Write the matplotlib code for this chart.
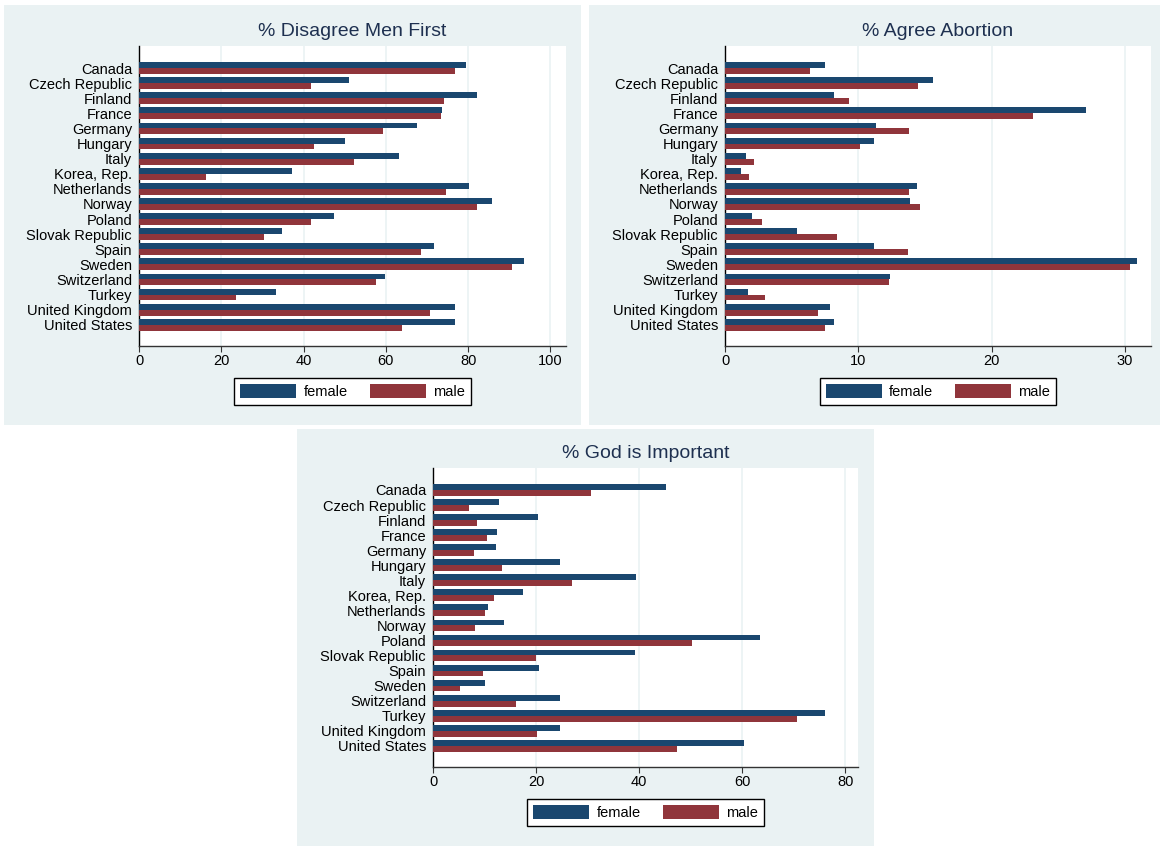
import matplotlib
matplotlib.use('Agg')
import matplotlib.pyplot as plt
from matplotlib.patches import Rectangle, Patch
import numpy as np

plt.rcParams['font.family'] = ['Liberation Sans', 'DejaVu Sans']

countries = ['Canada', 'Czech Republic', 'Finland', 'France', 'Germany', 'Hungary',
             'Italy', 'Korea, Rep.', 'Netherlands', 'Norway', 'Poland',
             'Slovak Republic', 'Spain', 'Sweden', 'Switzerland', 'Turkey',
             'United Kingdom', 'United States']

disagree_female = [79.6, 51.0, 82.2, 73.6, 67.5, 50.0, 63.3, 37.3, 80.2, 85.9,
                   47.4, 34.8, 71.7, 93.5, 59.7, 33.4, 76.9, 76.9]
disagree_male = [76.7, 41.9, 74.1, 73.5, 59.2, 42.6, 52.3, 16.4, 74.7, 82.2,
                 41.7, 30.3, 68.6, 90.7, 57.5, 23.5, 70.8, 63.9]

abortion_female = [7.5, 15.6, 8.2, 27.1, 11.3, 11.2, 1.6, 1.2, 14.4, 13.9,
                   2.0, 5.4, 11.2, 30.9, 12.4, 1.7, 7.9, 8.2]
abortion_male = [6.4, 14.5, 9.3, 23.1, 13.8, 10.1, 2.2, 1.8, 13.8, 14.6,
                 2.8, 8.4, 13.7, 30.4, 12.3, 3.0, 7.0, 7.5]

god_female = [45.3, 12.9, 20.3, 12.4, 12.2, 24.7, 39.5, 17.5, 10.6, 13.7,
              63.4, 39.3, 20.5, 10.0, 24.7, 76.0, 24.6, 60.3]
god_male = [30.6, 7.0, 8.6, 10.5, 7.9, 13.4, 27.0, 11.8, 10.0, 8.1,
            50.3, 20.0, 9.8, 5.2, 16.1, 70.6, 20.1, 47.4]

NAVY = '#1a476f'
MAROON = '#90353b'
REGION = '#eaf2f3'
TITLE = '#1e3050'

W, H = 1161, 846
fig = plt.figure(figsize=(W / 100, H / 100), dpi=100)


def frac(x0, y0, x1, y1):
    # pixel box (top-left origin) -> figure fraction [left, bottom, width, height]
    return [x0 / W, 1 - y1 / H, (x1 - x0) / W, (y1 - y0) / H]


def panel(title, female, male, ticks, xmax, region, plot):
    l, b, w, h = frac(*region)
    fig.patches.append(Rectangle((l, b), w, h, transform=fig.transFigure,
                                 facecolor=REGION, edgecolor='none', zorder=-10))
    ax = fig.add_axes(frac(*plot))
    ax.set_facecolor('white')
    y = np.arange(len(countries))
    ax.barh(y - 0.195, female, height=0.39, color=NAVY, linewidth=0, zorder=3)
    ax.barh(y + 0.195, male, height=0.39, color=MAROON, linewidth=0, zorder=3)
    ax.set_ylim(len(countries) - 1 + 1.41, -1.46)
    ax.set_xlim(0, xmax)
    ax.set_yticks(y)
    ax.set_yticklabels(countries, fontsize=10.5)
    ax.set_xticks(ticks)
    ax.set_xticklabels([str(t) for t in ticks], fontsize=10.5)
    ax.tick_params(axis='y', length=0, pad=5)
    ax.tick_params(axis='x', length=4, width=0.8, color='#333333', pad=2)
    ax.grid(axis='x', color=REGION, linewidth=1.2, zorder=0)
    ax.set_axisbelow(True)
    for s in ('top', 'right'):
        ax.spines[s].set_visible(False)
    ax.spines['left'].set_color('black')
    ax.spines['bottom'].set_color('#333333')
    ax.spines['left'].set_linewidth(1)
    ax.spines['bottom'].set_linewidth(1)

    px, py = (plot[0] + plot[2]) / 2, plot[1] - 15
    fig.text(px / W, 1 - py / H, title, ha='center', va='center',
             fontsize=14, color=TITLE)

    plot_h = plot[3] - plot[1]
    handles = [Patch(facecolor=NAVY, label='female'), Patch(facecolor=MAROON, label='male')]
    leg = ax.legend(handles=handles, loc='upper center', ncol=2,
                    bbox_to_anchor=(0.5, -32 / plot_h), fontsize=10.5,
                    frameon=True, fancybox=False, framealpha=1,
                    edgecolor='black', handlelength=3.85, handleheight=1.1,
                    handletextpad=0.5, columnspacing=1.5, borderpad=0.4,
                    borderaxespad=0)
    leg.get_frame().set_linewidth(1)
    return ax


panel('% Disagree Men First', disagree_female, disagree_male,
      [0, 20, 40, 60, 80, 100], 103.8, (4, 5, 581, 425), (139, 46, 566, 346))
panel('% Agree Abortion', abortion_female, abortion_male,
      [0, 10, 20, 30], 31.95, (589, 5, 1160, 425), (725, 46, 1151, 346))
panel('% God is Important', god_female, god_male,
      [0, 20, 40, 60, 80], 82.5, (297, 429, 874, 846), (433, 468, 858, 767))

fig.savefig('out.png', dpi=100, facecolor='white')
